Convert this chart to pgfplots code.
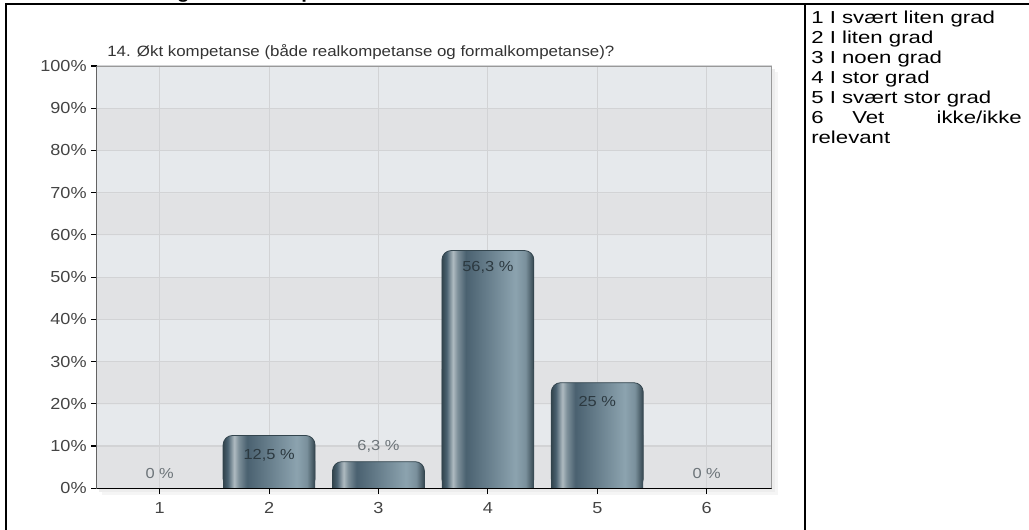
\documentclass[border=0pt]{standalone}
\usepackage{fontspec}
\setmainfont{Liberation Sans}[FakeStretch=1.13]
\newfontfamily\panelfont{Liberation Sans}[FakeStretch=1.28]
\usepackage{pgfplots}
\usepackage{pgfplotstable}
\pgfplotsset{compat=1.18}

\definecolor{bandA}{HTML}{E6E9EC}
\definecolor{bandB}{HTML}{E1E2E4}
\definecolor{gridc}{HTML}{D2D3D5}
\definecolor{ticktext}{HTML}{444444}
\definecolor{titletext}{HTML}{333333}
\definecolor{bE}{HTML}{33454E}
\definecolor{bH}{HTML}{AFBBC1}
\definecolor{bD}{HTML}{4A6170}
\definecolor{bM}{HTML}{7D8F99}
\definecolor{bL}{HTML}{8CA3AF}
\definecolor{bR}{HTML}{7A909C}
\definecolor{labincol}{HTML}{2C3940}
\definecolor{laboutcol}{HTML}{6C7479}

% tikz maps the band 25bp..75bp of a shading onto the path
\pgfdeclarehorizontalshading{barsh}{100bp}{color(0bp)=(bE); color(25bp)=(bE); color(27.5bp)=(bD); color(31bp)=(bH); color(33.5bp)=(bM); color(38bp)=(bD); color(65bp)=(bL); color(70.5bp)=(bR); color(75bp)=(bE); color(100bp)=(bE)}

\pgfdeclareverticalshading{bands}{100bp}{color(0bp)=(bandB); color(30bp)=(bandB); color(30.01bp)=(bandA); color(35bp)=(bandA); color(35.01bp)=(bandB); color(40bp)=(bandB); color(40.01bp)=(bandA); color(45bp)=(bandA); color(45.01bp)=(bandB); color(50bp)=(bandB); color(50.01bp)=(bandA); color(55bp)=(bandA); color(55.01bp)=(bandB); color(60bp)=(bandB); color(60.01bp)=(bandA); color(65bp)=(bandA); color(65.01bp)=(bandB); color(70bp)=(bandB); color(70.01bp)=(bandA); color(100bp)=(bandA)}

\pgfplotstableread{
x y
1 0
2 12.5
3 6.3
4 56.3
5 25
6 0
}\datatable

\pgfplotstableread{
x ly lab
2 7.8 {12,5 \%}
4 52.2 {56,3 \%}
5 20.5 {25 \%}
}\labintable

\pgfplotstableread{
x ly lab
1 3.6 {0 \%}
3 9.9 {6,3 \%}
6 3.6 {0 \%}
}\labouttable

\begin{document}
\begin{tikzpicture}[x=0.75pt,y=0.75pt]
\path[use as bounding box] (0,0) rectangle (1029,530);

% cut-off heading above the table (only its descenders show)
\begin{scope}
\clip (0,525.5) rectangle (1029,530);
\node[anchor=base west, inner sep=0pt, font=\bfseries\fontsize{13.5}{16}\selectfont] at (94,531.8) {Vurdering av økt kompetanse hos deltakerne};
\end{scope}

% table frame
\draw[black, line width=1.6pt] (6,526) -- (1029,526);
\draw[black, line width=1.6pt] (6,526.8) -- (6,0);
\draw[black, line width=1.6pt] (805,526.8) -- (805,0);

% legend text in right cell
\begin{scope}[every node/.style={anchor=base west, inner sep=0pt, font=\panelfont\fontsize{13}{15}\selectfont}]
\node at (811,506) {1 I svært liten grad};
\node at (811,486) {2 I liten grad};
\node at (811,466) {3 I noen grad};
\node at (811,446) {4 I stor grad};
\node at (811,426) {5 I svært stor grad};
\node at (811,406) {6};
\node at (852,406) {Vet};
\node[anchor=base east] at (1022,406) {ikke/ikke};
\node at (811,386) {relevant};
\end{scope}

% soft shadow of plot area
\fill[black!4] (102,530-495) rectangle (778,530-72);
\fill[black!7] (99,530-492) rectangle (775,530-69);

% title of chart
\node[anchor=base west, inner sep=0pt, text=titletext, font=\fontsize{11.2}{13}\selectfont] at (107,530-56.5) {14. Økt kompetanse (både realkompetanse og formalkompetanse)?};

\begin{axis}[
  at={(72.5pt,31.3pt)}, anchor=south west,
  width=506.25pt, height=316.7pt, scale only axis,
  xmin=0.424, xmax=6.594, ymin=0, ymax=100,
  xtick={1,2,3,4,5,6}, ytick={0,10,...,100},
  yticklabel={\pgfmathprintnumber{\tick}\%},
  /pgf/number format/assume math mode=true,
  tick pos=left, tick align=outside, major tick length=4pt,
  tick style={black, line width=0.8pt},
  grid=major, grid style={gridc, line width=0.8pt},
  axis line style={draw=black!40, line width=0.6pt},
  axis background/.style={shade, shading=bands},
  ticklabel style={font=\fontsize{12}{13}\selectfont, text=ticktext},
  xticklabel style={yshift=-3pt},
  clip=true,
  barstyle/.style={ybar, bar width=0.84, shade, shading=barsh},
]
% one plot per bar so that each bar gets its own shading
\pgfplotsinvokeforeach{1,2,3,4}{
\addplot[barstyle, draw=bE, line width=0.6pt, rounded corners=7pt, restrict expr to domain={\coordindex}{#1:#1}] table[x=x,y=y]{\datatable};
\addplot[barstyle, draw=none, restrict expr to domain={\coordindex}{#1:#1}] table[x=x,y expr=\thisrow{y}/2]{\datatable};
}

\addplot[draw=none, mark=none, nodes near coords, point meta=explicit symbolic,
  nodes near coords style={anchor=center, text=labincol, font=\fontsize{10.9}{12}\selectfont}]
  table[x=x,y=ly,meta=lab]{\labintable};
\addplot[draw=none, mark=none, nodes near coords, point meta=explicit symbolic,
  nodes near coords style={anchor=center, text=laboutcol, font=\fontsize{10.9}{12}\selectfont}]
  table[x=x,y=ly,meta=lab]{\labouttable};

\draw[black, line width=1pt] (rel axis cs:0,1) -- (rel axis cs:0,0) -- (rel axis cs:1,0);
\end{axis}
\end{tikzpicture}
\end{document}
